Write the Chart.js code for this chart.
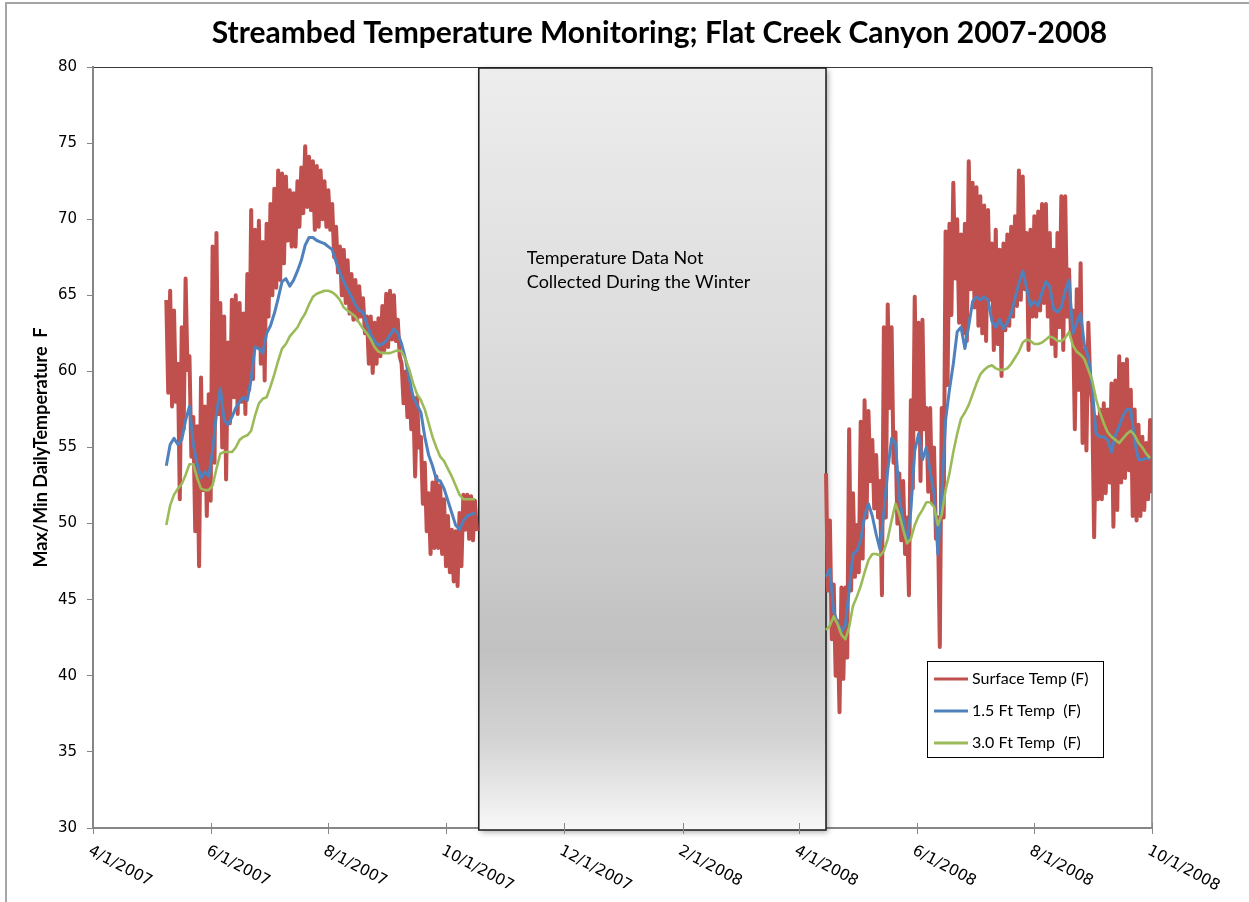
<!DOCTYPE html>
<html>
<head>
<meta charset="utf-8">
<title>Streambed Temperature Monitoring</title>
<script src="https://cdn.jsdelivr.net/npm/chart.js@4.4.1/dist/chart.umd.min.js"></script>
<style>
  html, body { margin: 0; padding: 0; background: #fff; }
  canvas { display: block; }
</style>
</head>
<body>
<canvas id="tempChart" width="1249" height="902"></canvas>
<script>
// x axis is a day count from 4/1/2007; ticks every two months
const dateTicks = ['4/1/2007', '6/1/2007', '8/1/2007', '10/1/2007', '12/1/2007',
                   '2/1/2008', '4/1/2008', '6/1/2008', '8/1/2008', '10/1/2008'];
const winterGap = ['10/18/2007', '4/15/2008'];
const seasonStart = ['5/9/2007', '4/15/2008'];
const sampleStep = 2; // days between readings

// 2007 season: surface daily max / min, and the two buried probes
const surfaceHi2007 = [
  64.7, 65.3, 64.0, 60.5, 62.9, 66.1, 61.0, 57.0, 56.4, 59.6,
  57.7, 58.5, 68.2, 69.1, 64.5, 63.6, 61.9, 64.7, 65.0, 64.5,
  63.8, 66.4, 70.6, 69.3, 69.9, 68.5, 69.7, 71.0, 72.0, 73.2,
  73.0, 72.8, 71.9, 71.7, 72.5, 73.4, 74.8, 74.1, 73.8, 73.5,
  73.2, 72.5, 71.9, 71.0, 69.5, 68.2, 68.0, 67.3, 66.4, 66.0,
  65.6, 64.8, 63.6, 63.6, 63.2, 63.5, 64.3, 65.1, 65.3, 65.0,
  63.4, 60.5, 60.0, 59.6, 58.3, 58.3, 55.7, 54.0, 52.0, 52.7,
  53.1, 52.5, 51.6, 50.5, 49.6, 49.5, 50.7, 51.9, 51.9, 51.8,
  51.5
];
const surfaceLo2007 = [
  58.6, 57.7, 58.0, 51.6, 56.2, 60.1, 54.4, 49.5, 47.2, 52.2,
  50.5, 51.5, 54.0, 57.2, 55.0, 52.9, 56.6, 58.3, 57.2, 58.0,
  57.2, 58.8, 59.5, 61.6, 60.5, 59.4, 63.6, 65.0, 65.5, 66.0,
  67.1, 68.6, 68.2, 68.2, 69.5, 70.4, 70.8, 70.6, 69.3, 69.5,
  70.0, 69.5, 69.3, 67.5, 66.5, 65.0, 64.5, 63.8, 63.4, 63.4,
  63.6, 62.5, 60.5, 59.9, 60.5, 61.0, 61.4, 61.6, 62.1, 62.0,
  61.0, 57.9, 57.0, 56.2, 53.1, 55.0, 51.3, 49.5, 48.0, 48.4,
  48.4, 48.0, 47.2, 46.8, 46.2, 45.9, 47.2, 49.6, 49.0, 48.9,
  49.5
];
const ft15Temp2007 = [
  53.8, 55.2, 55.6, 55.2, 55.5, 56.8, 57.7, 55.2, 53.9, 53.0,
  53.4, 53.1, 54.8, 57.2, 58.9, 56.8, 56.5, 57.0, 57.6, 58.0,
  58.3, 58.1, 59.5, 61.6, 61.5, 61.2, 62.5, 63.0, 63.8, 64.8,
  65.9, 66.1, 65.6, 66.0, 66.6, 67.3, 68.3, 68.8, 68.8, 68.6,
  68.5, 68.4, 68.2, 68.0, 67.2, 66.5, 65.9, 65.4, 64.9, 64.4,
  64.0, 63.9, 63.1, 62.4, 62.0, 61.7, 61.8, 62.0, 62.4, 62.8,
  62.5, 61.8, 60.8, 59.5, 58.3, 57.8, 57.3, 55.7, 54.5, 53.8,
  52.9, 52.8, 52.3, 51.5, 50.7, 49.9, 49.6, 50.2, 50.5, 50.6,
  50.7
];
const ft30Temp2007 = [
  49.9, 51.2, 51.9, 52.3, 52.6, 53.2, 53.9, 53.9, 53.0, 52.3,
  52.2, 52.2, 52.5, 53.6, 54.6, 54.7, 54.7, 54.7, 55.0, 55.5,
  55.7, 55.8, 56.1, 57.1, 57.9, 58.2, 58.3, 59.0, 59.8, 60.7,
  61.5, 61.8, 62.3, 62.6, 62.9, 63.4, 63.8, 64.4, 64.9, 65.1,
  65.2, 65.3, 65.3, 65.2, 65.0, 64.7, 64.2, 64.0, 63.8, 63.6,
  63.2, 62.8, 62.5, 62.1, 61.6, 61.3, 61.2, 61.2, 61.2, 61.3,
  61.4, 61.3, 60.8, 60.1, 59.2, 58.5, 58.1, 57.5, 56.6, 55.7,
  55.0, 54.4, 54.1, 53.6, 53.1, 52.5, 51.9, 51.6, 51.6, 51.6,
  51.6
];

// 2008 season
const surfaceHi2008 = [
  53.3, 50.2, 46.0, 43.6, 45.8, 45.8, 56.2, 52.0, 49.9, 56.7,
  58.1, 57.4, 55.5, 54.5, 52.8, 62.9, 64.4, 62.9, 56.0, 53.3,
  52.8, 50.4, 58.1, 64.9, 63.2, 63.4, 57.6, 57.6, 55.0, 50.4,
  57.6, 69.2, 69.7, 72.4, 70.0, 69.0, 69.7, 73.8, 72.4, 72.1,
  71.5, 70.9, 70.6, 68.4, 69.3, 68.0, 68.4, 69.0, 69.5, 70.2,
  73.2, 72.8, 69.1, 69.3, 70.2, 70.5, 71.0, 71.0, 69.1, 68.0,
  69.1, 71.5, 71.5, 66.7, 64.0, 65.4, 67.1, 61.4, 63.2, 57.9,
  57.0, 57.5, 57.9, 57.5, 59.2, 59.4, 61.0, 60.5, 60.8, 58.8,
  57.5, 56.5, 55.7, 55.3, 56.8
];
const surfaceLo2008 = [
  45.6, 42.4, 40.0, 37.6, 39.8, 41.2, 45.6, 46.5, 46.8, 47.7,
  50.4, 52.8, 51.0, 50.4, 45.3, 50.4, 57.6, 54.0, 50.0, 48.9,
  48.0, 45.3, 52.3, 56.2, 52.8, 56.2, 52.1, 51.4, 49.0, 41.9,
  50.4, 59.1, 63.7, 66.1, 63.2, 62.5, 62.0, 65.4, 64.2, 63.0,
  62.5, 62.0, 64.7, 61.4, 61.8, 59.7, 62.7, 63.0, 63.6, 64.3,
  64.7, 65.4, 61.4, 63.6, 63.6, 64.0, 64.5, 63.6, 61.8, 61.0,
  62.9, 61.4, 63.6, 62.3, 56.2, 58.8, 55.3, 54.8, 59.2, 49.1,
  51.6, 51.6, 52.0, 52.7, 49.8, 50.9, 52.7, 53.0, 53.5, 50.5,
  50.2, 50.5, 50.9, 51.6, 52.0
];
const ft15Temp2008 = [
  46.5, 47.0, 44.2, 43.5, 42.9, 43.3, 45.6, 48.0, 48.2, 48.9,
  50.5, 51.3, 50.5, 49.3, 48.3, 50.8, 53.5, 55.6, 55.3, 51.7,
  50.2, 48.8, 50.9, 54.8, 55.9, 54.2, 55.0, 53.4, 52.0, 48.0,
  51.8, 56.8, 58.8, 60.5, 62.6, 62.9, 61.5, 63.0, 64.6, 64.9,
  64.7, 64.9, 64.7, 63.3, 62.9, 63.4, 62.8, 63.2, 63.8, 64.8,
  65.8, 66.6, 65.5, 64.3, 64.6, 64.3, 65.2, 65.9, 65.6, 64.1,
  63.9, 64.2, 65.3, 66.0, 62.5, 63.2, 63.8, 61.7, 60.9, 59.0,
  55.9, 55.7, 55.7, 55.5, 54.7, 55.8, 56.4, 57.1, 57.5, 57.5,
  55.4, 54.2, 54.2, 54.3, 54.2
];
const ft30Temp2008 = [
  43.0, 43.3, 43.9, 43.4, 42.7, 42.4, 43.2, 44.6, 45.2, 45.9,
  46.8, 47.6, 48.0, 48.0, 47.9, 48.2, 49.0, 50.2, 51.3, 50.6,
  49.6, 48.7, 49.0, 49.9, 50.5, 50.9, 51.4, 51.4, 51.1, 49.9,
  50.6, 52.2, 53.3, 54.7, 55.9, 56.9, 57.3, 57.8, 58.5, 59.2,
  59.8, 60.1, 60.3, 60.4, 60.2, 60.1, 60.1, 60.2, 60.5, 60.9,
  61.3, 61.9, 62.1, 62.0, 61.8, 61.8, 61.9, 62.1, 62.3, 62.2,
  62.0, 62.0, 62.2, 62.6, 61.7, 61.3, 61.1, 60.8, 60.1, 59.4,
  58.2, 57.3, 56.6, 56.0, 55.7, 55.5, 55.3, 55.6, 55.9, 56.1,
  55.8, 55.3, 55.0, 54.6, 54.3
];

const seriesNames = ['Surface Temp (F)', '1.5 Ft Temp  (F)', '3.0 Ft Temp  (F)'];
const seriesColors = ['#C0504D', '#4F81BD', '#9BBB59'];

const DAY_MS = 86400000;
const axisOrigin = Date.UTC(2007, 3, 1);
function toDay(label) {
  const [m, d, y] = label.split('/').map(Number);
  return (Date.UTC(y, m - 1, d) - axisOrigin) / DAY_MS;
}

// one point per reading, with a null in between so the winter is left blank
function seasonLine(values2007, values2008) {
  const pts = [];
  const s1 = toDay(seasonStart[0]), s2 = toDay(seasonStart[1]);
  values2007.forEach((v, i) => pts.push({ x: s1 + i * sampleStep, y: v }));
  pts.push({ x: toDay(winterGap[0]), y: null });
  values2008.forEach((v, i) => pts.push({ x: s2 + i * sampleStep, y: v }));
  return pts;
}
// surface readings alternate between the daily max and min
function surfaceLine() {
  const pts = [];
  const add = (hi, lo, start) => hi.forEach((h, i) => {
    const d = start + i * sampleStep;
    pts.push({ x: d, y: h }, { x: d + sampleStep / 2, y: lo[i] });
  });
  add(surfaceHi2007, surfaceLo2007, toDay(seasonStart[0]));
  pts.push({ x: toDay(winterGap[0]), y: null });
  add(surfaceHi2008, surfaceLo2008, toDay(seasonStart[1]));
  return pts;
}

const axisGray = '#868686';
const calibri = 'Lato, "Open Sans", sans-serif';

const chartDecor = {
  id: 'chartDecor',
  beforeDraw(chart) {
    const { ctx, chartArea: a } = chart;
    ctx.save();
    // outer frame of the chart object
    ctx.strokeStyle = '#a5a5a5';
    ctx.lineWidth = 2;
    ctx.beginPath();
    ctx.moveTo(6, chart.height);
    ctx.lineTo(6, 3);
    ctx.lineTo(chart.width, 3);
    ctx.stroke();
    // plot area outline
    ctx.strokeStyle = '#3a3a3a';
    ctx.lineWidth = 1;
    ctx.strokeRect(a.left + 0.5, a.top + 0.5, a.width - 0.5, a.height);
    ctx.restore();
  },
  beforeDatasetsDraw(chart) {
    const { ctx, chartArea: a, scales: { x } } = chart;
    const left = x.getPixelForValue(toDay(winterGap[0]));
    const right = x.getPixelForValue(toDay(winterGap[1]));
    const top = a.top + 1, bottom = a.bottom + 2;
    ctx.save();
    const g = ctx.createLinearGradient(0, top, 0, bottom);
    g.addColorStop(0, '#ededed');
    g.addColorStop(0.45, '#d8d8d8');
    g.addColorStop(0.76, '#c1c1c1');
    g.addColorStop(0.88, '#d3d3d3');
    g.addColorStop(1, '#f8f8f8');
    ctx.shadowColor = 'rgba(0,0,0,0.35)';
    ctx.shadowBlur = 6;
    ctx.shadowOffsetX = 2;
    ctx.shadowOffsetY = 2;
    ctx.fillStyle = g;
    ctx.fillRect(left, top, right - left, bottom - top);
    ctx.shadowColor = 'transparent';
    ctx.strokeStyle = '#1a1a1a';
    ctx.lineWidth = 1.5;
    ctx.strokeRect(left, top, right - left, bottom - top);
    ctx.fillStyle = '#000';
    ctx.font = '18px ' + calibri;
    ctx.textAlign = 'left';
    ctx.textBaseline = 'middle';
    ctx.fillText('Temperature Data Not', left + 48, top + 190);
    ctx.fillText('Collected During the Winter', left + 48, top + 214);
    ctx.restore();
  },
  afterDraw(chart) {
    const { ctx, chartArea: a, scales: { x } } = chart;
    ctx.save();
    // chart title
    ctx.fillStyle = '#000';
    ctx.font = 'bold 30px ' + calibri;
    ctx.textAlign = 'center';
    ctx.textBaseline = 'middle';
    ctx.fillText('Streambed Temperature Monitoring; Flat Creek Canyon 2007-2008',
                 (a.left + a.right) / 2 + 37, 33);

    // date ticks crossing the x axis, labels slanting down to the right
    ctx.strokeStyle = axisGray;
    ctx.lineWidth = 1;
    ctx.font = '15.5px "DejaVu Sans", Verdana, sans-serif';
    ctx.textAlign = 'left';
    dateTicks.forEach(lbl => {
      const px = Math.round(x.getPixelForValue(toDay(lbl))) + 0.5;
      ctx.beginPath();
      ctx.moveTo(px, a.bottom - 5);
      ctx.lineTo(px, a.bottom + 6);
      ctx.stroke();
      ctx.save();
      ctx.translate(px - 4, a.bottom + 22);
      ctx.rotate(28 * Math.PI / 180);
      ctx.fillStyle = '#000';
      ctx.fillText(lbl, 0, 0);
      ctx.restore();
    });

    // legend box in the lower right of the plot
    const lx = a.right - 225, ly = a.bottom - 167;
    ctx.fillStyle = '#fff';
    ctx.fillRect(lx, ly, 176, 96);
    ctx.strokeStyle = '#000';
    ctx.lineWidth = 1;
    ctx.strokeRect(lx + 0.5, ly + 0.5, 176, 96);
    ctx.font = '16px ' + calibri;
    seriesNames.forEach((name, i) => {
      const ry = ly + 18 + i * 32;
      ctx.strokeStyle = seriesColors[i];
      ctx.lineWidth = 3;
      ctx.beginPath();
      ctx.moveTo(lx + 7, ry);
      ctx.lineTo(lx + 41, ry);
      ctx.stroke();
      ctx.fillStyle = '#000';
      ctx.fillText(name, lx + 45, ry);
    });
    ctx.restore();
  }
};

const ctx = document.getElementById('tempChart').getContext('2d');
const tempChart = new Chart(ctx, {
  type: 'line',
  data: {
    datasets: [
      {
        label: seriesNames[0],
        data: surfaceLine(),
        borderColor: seriesColors[0],
        borderWidth: 4,
        order: 3
      },
      {
        label: seriesNames[1],
        data: seasonLine(ft15Temp2007, ft15Temp2008),
        borderColor: seriesColors[1],
        borderWidth: 3,
        order: 2
      },
      {
        label: seriesNames[2],
        data: seasonLine(ft30Temp2007, ft30Temp2008),
        borderColor: seriesColors[2],
        borderWidth: 2.6,
        order: 1
      }
    ]
  },
  options: {
    responsive: false,
    animation: false,
    spanGaps: false,
    elements: {
      point: { radius: 0 },
      line: { tension: 0, borderJoinStyle: 'round', fill: false }
    },
    layout: { padding: { left: 0, top: 67, right: 97, bottom: 0 } },
    plugins: {
      legend: { display: false },
      title: { display: false },
      tooltip: { enabled: false }
    },
    scales: {
      x: {
        type: 'linear',
        min: toDay(dateTicks[0]),
        max: toDay(dateTicks[dateTicks.length - 1]),
        ticks: { display: false },
        grid: { display: true, drawOnChartArea: false, drawTicks: false },
        border: { color: axisGray, width: 2 },
        afterFit(scale) { scale.height = 74; }
      },
      y: {
        min: 30,
        max: 80,
        ticks: {
          stepSize: 5,
          padding: 10,
          color: '#000',
          font: { family: '"DejaVu Sans", Verdana, sans-serif', size: 15 }
        },
        grid: { drawOnChartArea: false, drawTicks: true, tickLength: 6, color: axisGray },
        border: { color: axisGray, width: 2 },
        title: {
          display: true,
          text: 'Max/Min DailyTemperature  F',
          color: '#000',
          font: { family: calibri, size: 18, weight: 'bold' },
          padding: { top: 30, bottom: 0 }
        },
        afterFit(scale) { scale.width = 93; }
      }
    }
  },
  plugins: [chartDecor]
});
</script>
</body>
</html>
